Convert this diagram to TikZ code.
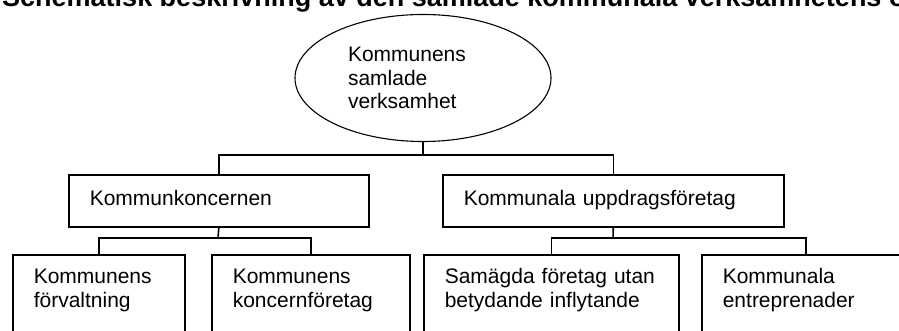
\documentclass[tikz,border=0pt]{standalone}
\usepackage{fontspec}
\setmainfont{Liberation Sans}
\usetikzlibrary{shapes.geometric}

\begin{document}
\begin{tikzpicture}[x=1pt,y=-1pt,
  main node/.style={rectangle,draw,line width=1.6pt,anchor=north west,
  inner xsep=21pt,inner ysep=0pt,align=left,
  font=\fontsize{21}{23.5}\selectfont},
  top node/.style={ellipse,draw,line width=1.1pt,minimum width=256pt,
  minimum height=127pt,inner sep=0pt,text width=150pt,align=left,
  font=\fontsize{21}{23.5}\selectfont},
  link/.style={line width=1.6pt}]

  \useasboundingbox (0,0) rectangle (899,331);
  \clip (0,0) rectangle (899,331);

  %Heading, cut at the top and at the right%
  \node[anchor=base west,inner sep=0pt,font=\fontsize{27}{30}\selectfont\bfseries]
    (T) at (2,7) {Schematisk beskrivning av den samlade kommunala verksamhetens o};

  \node[top node] (KSV) at (423,78) {Kommunens\\samlade\\verksamhet};

  \node[main node,text width=258pt,text height=31pt,text depth=21pt]
    (KK) at (68,174) {Kommunkoncernen};
  \node[main node,text width=299pt,text height=31pt,text depth=21pt]
    (KU) at (442,174) {Kommunala uppdragsföretag};

  \node[main node,text width=130pt,text height=29pt,text depth=100pt]
    (KF) at (12,254) {Kommunens\\förvaltning};
  \node[main node,text width=156pt,text height=29pt,text depth=100pt]
    (KKF) at (211,254) {Kommunens\\koncernföretag};
  \node[main node,text width=213pt,text height=29pt,text depth=100pt]
    (SF) at (423,254) {Samägda företag utan\\betydande inflytande};
  \node[main node,text width=166pt,text height=29pt,text depth=100pt]
    (KE) at (701,254) {Kommunala\\entreprenader};

  \coordinate (B1) at (423,155);
  \coordinate (B2) at (218,238);
  \coordinate (B3) at (613,238);

  %Top to first row%
  \draw[link] (KSV.south) -- (B1);
  \draw[link] (KK.north) |- (B1) -| (KU.north);

  %Kommunkoncernen to its parts%
  \draw[link] (KK.south) -- (B2);
  \draw[link] (KF.north) |- (B2) -| (KKF.north);

  %Uppdragsforetag to its parts%
  \draw[link] (KU.south) -- (B3);
  \draw[link] (SF.north) |- (B3) -| (KE.north);

\end{tikzpicture}
\end{document}
